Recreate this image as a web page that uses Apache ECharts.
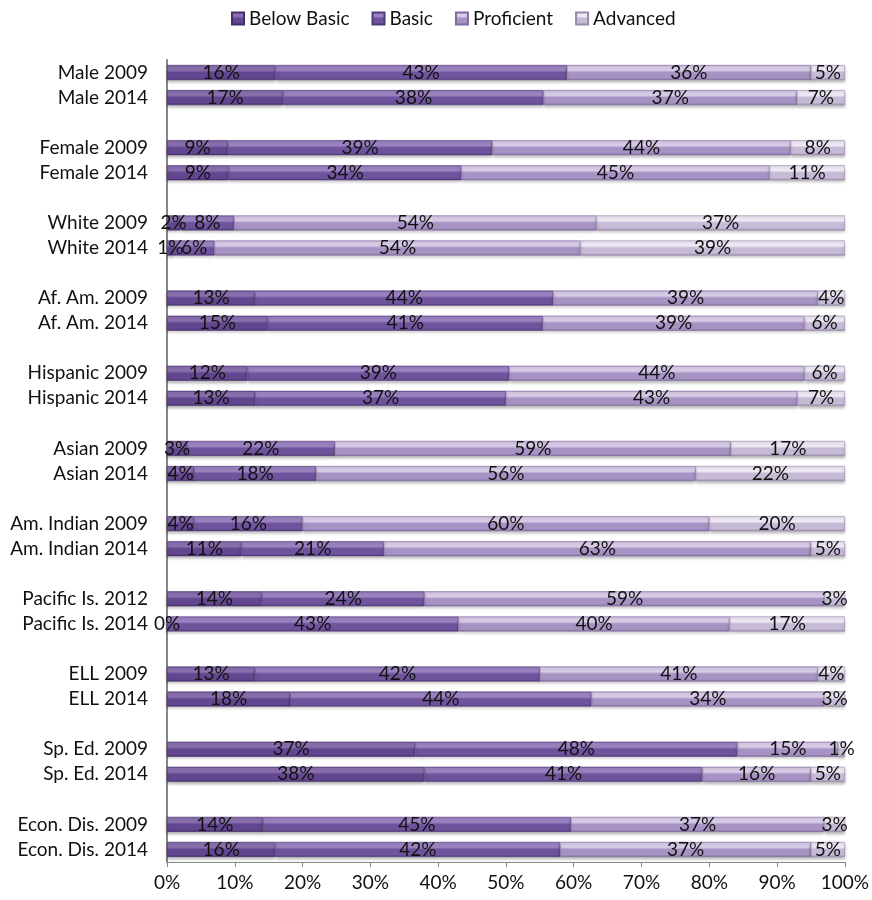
<!DOCTYPE html>
<html>
<head>
<meta charset="utf-8">
<script src="https://cdn.jsdelivr.net/npm/echarts@6/dist/echarts.min.js"></script>
<style>
html, body { margin: 0; padding: 0; background: #fff; }
#chart { width: 872px; height: 900px; }
</style>
</head>
<body>
<div id="chart"></div>
<script>
// rows, blank strings are the spacer rows between groups
const categories = [
  'Male 2009', 'Male 2014', '',
  'Female 2009', 'Female 2014', '',
  'White 2009', 'White 2014', '',
  'Af. Am. 2009', 'Af. Am. 2014', '',
  'Hispanic 2009', 'Hispanic 2014', '',
  'Asian 2009', 'Asian 2014', '',
  'Am. Indian 2009', 'Am. Indian 2014', '',
  'Pacific Is. 2012', 'Pacific Is. 2014', '',
  'ELL 2009', 'ELL 2014', '',
  'Sp. Ed. 2009', 'Sp. Ed. 2014', '',
  'Econ. Dis. 2009', 'Econ. Dis. 2014'
]
const belowBasic = [16, 17, null, 9, 9, null, 2, 1, null, 13, 15, null, 12, 13, null, 3, 4, null, 4, 11, null, 14, 0, null, 13, 18, null, 37, 38, null, 14, 16]
const basic = [43, 38, null, 39, 34, null, 8, 6, null, 44, 41, null, 39, 37, null, 22, 18, null, 16, 21, null, 24, 43, null, 42, 44, null, 48, 41, null, 45, 42]
const proficient = [36, 37, null, 44, 45, null, 54, 54, null, 39, 39, null, 44, 43, null, 59, 56, null, 60, 63, null, 59, 40, null, 41, 34, null, 15, 16, null, 37, 37]
const advanced = [5, 7, null, 8, 11, null, 37, 39, null, 4, 6, null, 6, 7, null, 17, 22, null, 20, 5, null, 3, 17, null, 4, 3, null, 1, 5, null, 3, 5]
const xTicks = [0, 10, 20, 30, 40, 50, 60, 70, 80, 90, 100]

const seriesNames = ['Below Basic', 'Basic', 'Proficient', 'Advanced']
const rawData = [belowBasic, basic, proficient, advanced]
// bevel look: light top, mid body, dark bottom
const shades = [
  ['#8a70ae', '#634690', '#452c6b'],
  ['#9c84c2', '#6f539d', '#51397a'],
  ['#d9cde8', '#a792c4', '#806ba0'],
  ['#efeaf5', '#c6bad6', '#988aab']
]

// 100% stacked: each row is scaled to its own total
const totals = categories.map((c, i) => {
  let t = 0
  rawData.forEach(arr => { t += arr[i] || 0 })
  return t
})

const chart = echarts.init(document.getElementById('chart'))

const series = seriesNames.map((name, k) => {
  const c = shades[k]
  return {
    name: name,
    type: 'bar',
    stack: 'total',
    barWidth: '60%',
    data: rawData[k].map((v, i) => v == null ? null : v / totals[i] * 100),
    itemStyle: {
      color: new echarts.graphic.LinearGradient(0, 0, 0, 1, [
        { offset: 0, color: c[1] },
        { offset: 0.12, color: c[0] },
        { offset: 0.35, color: c[0] },
        { offset: 0.5, color: c[1] },
        { offset: 0.85, color: c[1] },
        { offset: 1, color: c[2] }
      ]),
      borderColor: c[2],
      borderWidth: 0.5,
      shadowColor: 'rgba(0,0,0,0.28)',
      shadowBlur: 3,
      shadowOffsetY: 2
    },
    label: {
      show: true,
      position: 'inside',
      color: '#111',
      fontFamily: 'Lato',
      fontSize: 19,
      formatter: function (p) {
        return rawData[k][p.dataIndex] + '%'
      }
    },
    emphasis: { disabled: true }
  }
})

const option = {
  animation: false,
  textStyle: { fontFamily: 'Lato' },
  legend: {
    data: seriesNames,
    top: 4,
    left: 226,
    icon: 'rect',
    itemWidth: 12,
    itemHeight: 12,
    itemGap: 22,
    textStyle: { fontSize: 19, color: '#111', fontFamily: 'Lato' }
  },
  grid: {
    left: 167,
    right: 26,
    top: 60,
    bottom: 38,
    containLabel: false
  },
  xAxis: {
    type: 'value',
    min: xTicks[0],
    max: xTicks[xTicks.length - 1],
    interval: 10,
    splitLine: { show: false },
    axisLine: { show: true, lineStyle: { color: '#868686', width: 1 } },
    axisTick: { show: true, length: 5, lineStyle: { color: '#868686' } },
    axisLabel: {
      formatter: '{value}%',
      color: '#111',
      fontSize: 19,
      fontFamily: 'Lato',
      margin: 11
    }
  },
  yAxis: {
    type: 'category',
    inverse: true,
    data: categories,
    axisTick: { show: false },
    axisLine: { show: true, lineStyle: { color: '#868686', width: 2 } },
    axisLabel: {
      color: '#111',
      fontSize: 19,
      fontFamily: 'Lato',
      margin: 19
    }
  },
  series: series
}

chart.setOption(option)
</script>
</body>
</html>
